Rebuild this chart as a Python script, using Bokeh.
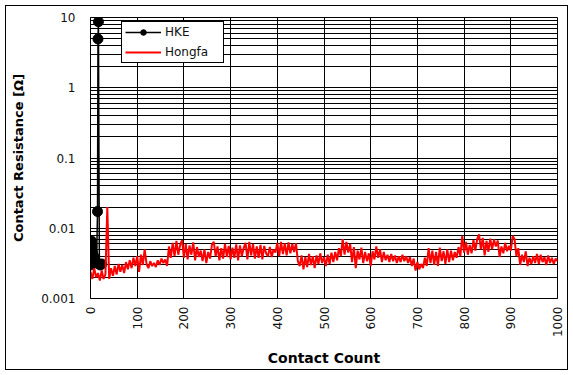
import math
from bokeh.plotting import figure
from bokeh.models import FixedTicker, Legend, LegendItem, Range1d
from bokeh.embed import file_html
from bokeh.resources import INLINE

# ---- data ----
x_ticks = [0, 100, 200, 300, 400, 500, 600, 700, 800, 900, 1000]
y_ticks = [0.001, 0.01, 0.1, 1, 10]
y_tick_labels = ["0.001", "0.01", "0.1", "1", "10"]

hke_count = [0, 1, 2, 3, 4, 6, 8, 10, 13, 15, 16, 17, 19, 21, 24]
hke_res = [0.0030, 0.0060, 0.0066, 0.0055, 0.0046, 0.0041, 0.0038, 0.0034,
           0.0032, 0.0173, 4.95, 8.7, 0.0031, 0.0030, 0.0031]

hongfa_count = list(range(0, 1001, 4))
hongfa_res = [
    0.0024, 0.0019, 0.0027, 0.0020, 0.0023, 0.0018, 0.0025, 0.0019, 0.0022, 0.0200,
    0.0019, 0.0027, 0.0021, 0.0029, 0.0022, 0.0031, 0.0024, 0.0030, 0.0023, 0.0033,
    0.0026, 0.0035, 0.0027, 0.0038, 0.0029, 0.0040, 0.0024, 0.0042, 0.0030, 0.0050,
    0.0031, 0.0027, 0.0034, 0.0029, 0.0032, 0.0028, 0.0035, 0.0030, 0.0037, 0.0032,
    0.0036, 0.0029, 0.0055, 0.0038, 0.0062, 0.0040, 0.0066, 0.0042, 0.0058, 0.0068,
    0.0038, 0.0060, 0.0036, 0.0057, 0.0042, 0.0063, 0.0035, 0.0054, 0.0039, 0.0048,
    0.0034, 0.0050, 0.0032, 0.0046, 0.0037, 0.0058, 0.0064, 0.0040, 0.0055, 0.0035,
    0.0052, 0.0037, 0.0060, 0.0039, 0.0056, 0.0036, 0.0053, 0.0038, 0.0059, 0.0035,
    0.0057, 0.0040, 0.0052, 0.0062, 0.0036, 0.0064, 0.0041, 0.0060, 0.0037, 0.0055,
    0.0038, 0.0058, 0.0036, 0.0056, 0.0044, 0.0040, 0.0054, 0.0039, 0.0050, 0.0045,
    0.0062, 0.0040, 0.0064, 0.0043, 0.0061, 0.0041, 0.0063, 0.0044, 0.0060, 0.0046,
    0.0061, 0.0034, 0.0029, 0.0041, 0.0026, 0.0039, 0.0028, 0.0043, 0.0030, 0.0040,
    0.0027, 0.0041, 0.0031, 0.0044, 0.0032, 0.0039, 0.0029, 0.0042, 0.0031, 0.0045,
    0.0033, 0.0046, 0.0035, 0.0052, 0.0040, 0.0070, 0.0042, 0.0064, 0.0045, 0.0060,
    0.0033, 0.0054, 0.0027, 0.0048, 0.0036, 0.0053, 0.0032, 0.0046, 0.0034, 0.0044,
    0.0029, 0.0047, 0.0036, 0.0055, 0.0038, 0.0050, 0.0033, 0.0046, 0.0035, 0.0042,
    0.0033, 0.0043, 0.0034, 0.0041, 0.0032, 0.0040, 0.0033, 0.0042, 0.0034, 0.0040,
    0.0032, 0.0039, 0.0029, 0.0037, 0.0025, 0.0033, 0.0026, 0.0031, 0.0027, 0.0038,
    0.0029, 0.0052, 0.0032, 0.0048, 0.0030, 0.0046, 0.0029, 0.0053, 0.0034, 0.0047,
    0.0031, 0.0050, 0.0033, 0.0048, 0.0035, 0.0046, 0.0038, 0.0054, 0.0040, 0.0078,
    0.0045, 0.0064, 0.0042, 0.0058, 0.0044, 0.0068, 0.0048, 0.0070, 0.0082, 0.0050,
    0.0073, 0.0041, 0.0066, 0.0046, 0.0071, 0.0050, 0.0069, 0.0055, 0.0067, 0.0039,
    0.0055, 0.0044, 0.0062, 0.0047, 0.0056, 0.0048, 0.0078, 0.0070, 0.0040, 0.0052,
    0.0030, 0.0042, 0.0033, 0.0047, 0.0029, 0.0038, 0.0031, 0.0040, 0.0032, 0.0043,
    0.0031, 0.0042, 0.0033, 0.0039, 0.0030, 0.0041, 0.0032, 0.0038, 0.0031, 0.0037,
    0.0034,
]
assert len(hongfa_count) == len(hongfa_res)

FONT = "DejaVu Sans"

p = figure(
    frame_width=467, frame_height=281,
    y_axis_type="log",
    x_range=Range1d(0, 1000), y_range=Range1d(0.001, 10),
    output_backend="svg", toolbar_location=None,
    min_border_left=84, min_border_right=10, min_border_top=11, min_border_bottom=71,
    background_fill_color="white", border_fill_color="white",
    styles={"border": "1px solid black", "margin-left": "5px", "margin-top": "5px"},
)
p.outline_line_color = "black"
p.outline_line_width = 1
p.outline_line_alpha = 1

# axes
p.xaxis.ticker = FixedTicker(ticks=x_ticks)
minor = [k * 10.0 ** e for e in range(-3, 1) for k in range(2, 10)]
p.yaxis.ticker = FixedTicker(ticks=y_ticks, minor_ticks=minor)
p.yaxis.major_label_overrides = {t: s for t, s in zip(y_ticks, y_tick_labels)}

for ax in (p.xaxis, p.yaxis):
    ax.major_tick_line_color = None
    ax.minor_tick_line_color = None
    ax.major_tick_out = 0
    ax.axis_line_color = "black"
    ax.major_label_text_font = FONT
    ax.major_label_text_font_size = "12px"
    ax.major_label_text_color = "#111111"
    ax.axis_label_text_font = FONT
    ax.axis_label_text_font_style = "bold"
    ax.axis_label_text_color = "black"

p.xaxis.axis_label = "Contact Count"
p.xaxis.axis_label_text_font_size = "14px"
p.xaxis.major_label_orientation = math.pi / 2
p.xaxis.major_label_standoff = 8
p.xaxis.axis_label_standoff = 10
p.yaxis.axis_label = "Contact Resistance [Ω]"
p.yaxis.axis_label_text_font_size = "13px"
p.yaxis.major_label_standoff = 11
p.yaxis.axis_label_standoff = 12

# grids
p.xgrid.grid_line_color = "black"
p.xgrid.grid_line_alpha = 1
p.ygrid.grid_line_color = "black"
p.ygrid.grid_line_alpha = 1
p.ygrid.minor_grid_line_color = "black"
p.ygrid.minor_grid_line_alpha = 1

# series
r_hl = p.line(hke_count, hke_res, line_color="black", line_width=1.5)
r_hp = p.scatter(hke_count, hke_res, size=10, fill_color="black", line_color="black")
r_f = p.line(hongfa_count, hongfa_res, line_color="#ff0000", line_width=2)

legend = Legend(
    items=[LegendItem(label="HKE", renderers=[r_hl, r_hp]),
           LegendItem(label="Hongfa", renderers=[r_f])],
    location=(31, 235),
    border_line_color="black", border_line_width=1, border_line_alpha=1,
    background_fill_color="white", background_fill_alpha=1,
    padding=3, spacing=6, margin=0,
    glyph_width=36, glyph_height=14, label_height=14, label_width=55,
    label_standoff=4,
    label_text_font=FONT, label_text_font_size="12px", label_text_color="#111111",
)
p.add_layout(legend)

open("out.html", "w").write(file_html(p, INLINE))
